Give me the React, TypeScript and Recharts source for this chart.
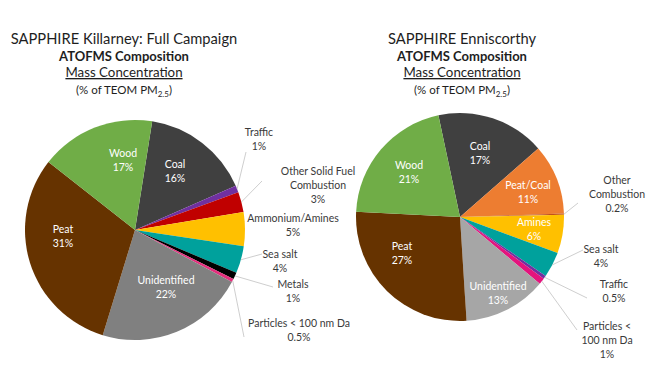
import React from "react";
import { PieChart, Pie, Cell } from "recharts";

// ---------- data ----------
const leftCategories = [
  "Coal",
  "Traffic",
  "Other Solid Fuel Combustion",
  "Ammonium/Amines",
  "Sea salt",
  "Metals",
  "Particles < 100 nm Da",
  "Unidentified",
  "Peat",
  "Wood",
];
const leftValues = [16, 1, 3, 5, 4, 1, 0.5, 22, 31, 17];

const rightCategories = [
  "Coal",
  "Peat/Coal",
  "Other Combustion",
  "Amines",
  "Sea salt",
  "Traffic",
  "Particles < 100 nm Da",
  "Unidentified",
  "Peat",
  "Wood",
];
const rightValues = [17, 11, 0.2, 6, 4, 0.5, 1, 13, 27, 21];

const leftTitle = ["SAPPHIRE Killarney: Full Campaign", "ATOFMS Composition", "Mass Concentration"];
const rightTitle = ["SAPPHIRE Enniscorthy", "ATOFMS Composition", "Mass Concentration"];

// ---------- styles ----------
const leftColors = ["#404040", "#7030A0", "#C00000", "#FFC000", "#00A19C", "#000000", "#E4307D", "#808080", "#663300", "#70AD47"];
const rightColors = ["#404040", "#ED7D31", "#C0501A", "#FFC000", "#00A19C", "#7030A0", "#E4147D", "#A6A6A6", "#663300", "#70AD47"];

const FONT = "Lato, 'Noto Sans', sans-serif";
const RAD = Math.PI / 180;

type LabelSpec = { x: number; y: number; lines: string[]; inside?: boolean; end?: [number, number] };

const leftLabels: Record<string, LabelSpec> = {
  Coal: { x: 175, y: 168, lines: ["Coal"], inside: true },
  Wood: { x: 123, y: 157, lines: ["Wood"], inside: true },
  Peat: { x: 63, y: 233, lines: ["Peat"], inside: true },
  Unidentified: { x: 166, y: 284, lines: ["Unidentified"], inside: true },
  Traffic: { x: 259, y: 136, lines: ["Traffic"], end: [246, 152] },
  "Other Solid Fuel Combustion": { x: 318, y: 175, lines: ["Other Solid Fuel", "Combustion"], end: [262, 181] },
  "Ammonium/Amines": { x: 293, y: 222, lines: ["Ammonium/Amines"] },
  "Sea salt": { x: 280, y: 258, lines: ["Sea salt"], end: [262, 254] },
  Metals: { x: 293, y: 288, lines: ["Metals"], end: [273, 287] },
  "Particles < 100 nm Da": { x: 299, y: 327, lines: ["Particles < 100 nm Da"], end: [244, 337] },
};

const rightLabels: Record<string, LabelSpec> = {
  Coal: { x: 480, y: 150, lines: ["Coal"], inside: true },
  Wood: { x: 409, y: 169, lines: ["Wood"], inside: true },
  "Peat/Coal": { x: 528, y: 189, lines: ["Peat/Coal"], inside: true },
  Amines: { x: 534, y: 226, lines: ["Amines"], inside: true },
  Peat: { x: 402, y: 250, lines: ["Peat"], inside: true },
  Unidentified: { x: 498, y: 290, lines: ["Unidentified"], inside: true },
  "Other Combustion": { x: 617, y: 184, lines: ["Other", "Combustion"], end: [578, 203] },
  "Sea salt": { x: 601, y: 253, lines: ["Sea salt"], end: [583, 250] },
  Traffic: { x: 614, y: 288, lines: ["Traffic"], end: [587, 298] },
  "Particles < 100 nm Da": { x: 607, y: 330, lines: ["Particles <", "100 nm Da"], end: [577, 330] },
};

const leftData = leftCategories.map((name, i) => ({ name, value: leftValues[i] }));
const rightData = rightCategories.map((name, i) => ({ name, value: rightValues[i] }));

function makeLabel(specs: Record<string, LabelSpec>) {
  return (props: any) => {
    const name = props.name ?? props.payload?.name;
    const value = props.value ?? props.payload?.value;
    const s = specs[name];
    if (!s) return null;
    const lines = [...s.lines, `${value}%`];
    const fill = s.inside ? "#FFFFFF" : "#3A3A3A";
    let leader: React.ReactNode = null;
    if (s.end) {
      const a = -props.midAngle * RAD;
      const r = props.outerRadius;
      const sx = props.cx + r * Math.cos(a);
      const sy = props.cy + r * Math.sin(a);
      leader = <line x1={sx} y1={sy} x2={s.end[0]} y2={s.end[1]} stroke="#C8C8C8" strokeWidth={0.9} />;
    }
    return (
      <g key={`lbl-${name}`}>
        {leader}
        <text x={s.x} y={s.y} textAnchor="middle" fill={fill} fontSize={10.5} fontFamily={FONT}>
          {lines.map((t, i) => (
            <tspan key={i} x={s.x} dy={i === 0 ? 0 : 13.8}>
              {t}
            </tspan>
          ))}
        </text>
      </g>
    );
  };
}

function Title({ cx, lines }: { cx: number; lines: string[] }) {
  return (
    <g fontFamily={FONT} fill="#1E1E1E" textAnchor="middle">
      <text x={cx} y={44} fontSize={14.7}>{lines[0]}</text>
      <text x={cx} y={61} fontSize={13}>
        <tspan fontWeight="bold">{lines[1]}</tspan>
      </text>
      <text x={cx} y={77} fontSize={13.3} textDecoration="underline">{lines[2]}</text>
      <text x={cx} y={94} fontSize={11.5}>
        (% of TEOM PM
        <tspan fontSize={8} dy={3}>2.5</tspan>
        <tspan dy={-3}>)</tspan>
      </text>
    </g>
  );
}

export default function App() {
  return (
    <div style={{ position: "absolute", left: 0, top: 0, width: 650, height: 367, background: "#FFFFFF" }}>
      <PieChart width={650} height={367} margin={{ top: 0, right: 0, bottom: 0, left: 0 }}>
        <Pie
          data={leftData}
          dataKey="value"
          nameKey="name"
          cx={135}
          cy={230}
          outerRadius={110}
          startAngle={81}
          endAngle={-279}
          stroke="none"
          isAnimationActive={false}
          labelLine={false}
          label={makeLabel(leftLabels)}
        >
          {leftData.map((d, i) => (
            <Cell key={d.name} fill={leftColors[i]} />
          ))}
        </Pie>
        <Pie
          data={rightData}
          dataKey="value"
          nameKey="name"
          cx={460}
          cy={217}
          outerRadius={104}
          startAngle={102}
          endAngle={-258}
          stroke="none"
          isAnimationActive={false}
          labelLine={false}
          label={makeLabel(rightLabels)}
        >
          {rightData.map((d, i) => (
            <Cell key={d.name} fill={rightColors[i]} />
          ))}
        </Pie>
      </PieChart>
      <svg width={650} height={367} style={{ position: "absolute", left: 0, top: 0, pointerEvents: "none" }}>
        <Title cx={124} lines={leftTitle} />
        <Title cx={462} lines={rightTitle} />
      </svg>
    </div>
  );
}
